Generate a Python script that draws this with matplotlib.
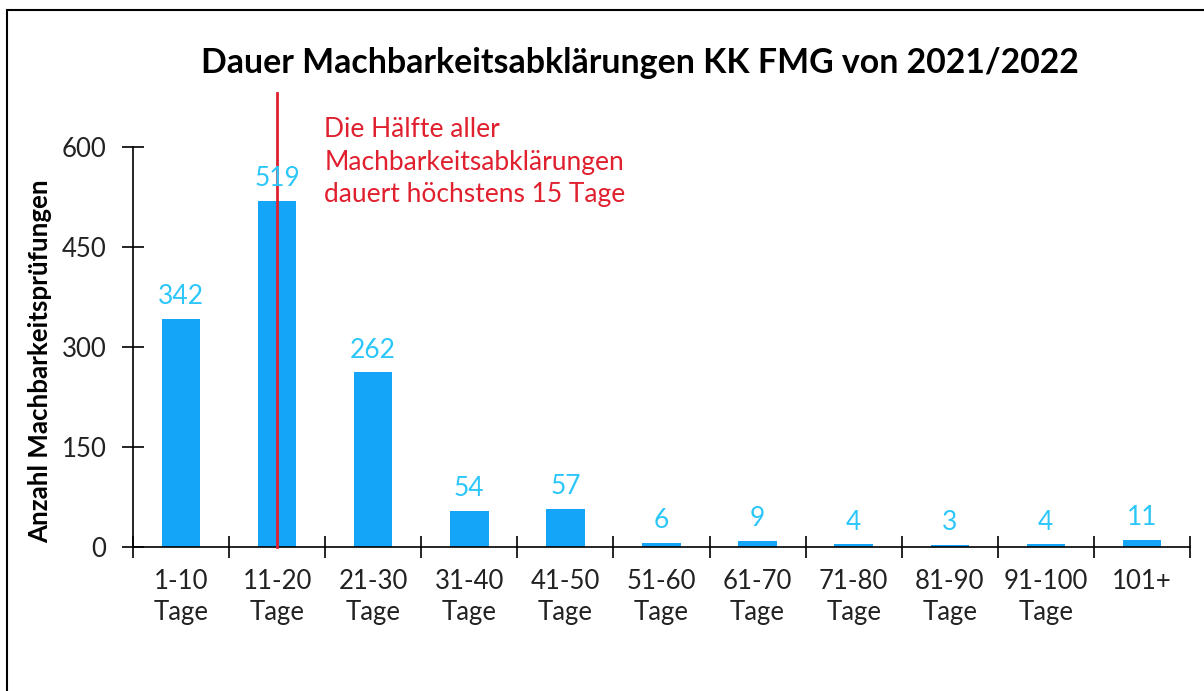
import matplotlib
matplotlib.use("Agg")
import matplotlib.pyplot as plt
from matplotlib.patches import Rectangle

plt.rcParams['font.family'] = ['Lato', 'DejaVu Sans']

categories = ["1-10\nTage", "11-20\nTage", "21-30\nTage", "31-40\nTage", "41-50\nTage",
              "51-60\nTage", "61-70\nTage", "71-80\nTage", "81-90\nTage", "91-100\nTage", "101+"]
values = [342, 519, 262, 54, 57, 6, 9, 4, 3, 4, 11]
yticks = [0, 150, 300, 450, 600]
title = "Dauer Machbarkeitsabklärungen KK FMG von 2021/2022"
ylabel = "Anzahl Machbarkeitsprüfungen"
note = "Die Hälfte aller\nMachbarkeitsabklärungen\ndauert höchstens 15 Tage"
median_cat = 1

bar_color = "#14A5F8"
label_color = "#2CC7FA"
red = "#E0202E"

fig = plt.figure(figsize=(12.04, 6.91), dpi=100)
ax = fig.add_axes([133/1204, 1-547/691, 1057/1204, 400/691])

x = list(range(len(values)))
ax.bar(x, values, width=0.4, color=bar_color, zorder=2)
for xi, v in zip(x, values):
    ax.annotate(str(v), (xi, v), xytext=(0, 7), textcoords="offset points",
                ha="center", va="bottom", fontsize=19, color=label_color, zorder=4)

ax.set_xlim(-0.5, len(values) - 0.5)
ax.set_ylim(0, 600)
ax.set_yticks(yticks)
ax.set_xticks([i - 0.5 for i in range(len(values) + 1)])
ax.set_xticklabels([])
ax.set_xticks(x, minor=True)
ax.set_xticklabels(categories, minor=True, fontsize=18.5, linespacing=1.3)
ax.tick_params(axis="x", which="minor", length=0, pad=16)
ax.tick_params(axis="x", which="major", direction="inout", length=16, width=1.2)
ax.tick_params(axis="y", direction="inout", length=16, width=1.2, labelsize=18.5, pad=11)
for lab in ax.get_yticklabels():
    lab.set_color("#222222")
for lab in ax.get_xticklabels(minor=True):
    lab.set_color("#222222")

for s in ["top", "right"]:
    ax.spines[s].set_visible(False)
for s in ["left", "bottom"]:
    ax.spines[s].set_linewidth(1.2)

ax.plot([median_cat, median_cat], [0, 681], color=red, lw=2, clip_on=False, zorder=3)
ax.text(median_cat + 0.49, 645, note, color=red, fontsize=19, va="top", ha="left",
        linespacing=1.38)

fig.text(640/1204, 1-63/691, title, ha="center", va="center", fontsize=24.4, fontweight="bold")
fig.text(40/1204, 1-361/691, ylabel, ha="center", va="center", rotation=90,
         fontsize=18.6, fontweight="bold")

fig.patches.append(Rectangle((7/1204, -0.1), 1.2, 1.1 - 10/691, transform=fig.transFigure,
                             fill=False, edgecolor="black", lw=1.5))

fig.savefig("out.png", dpi=100)
